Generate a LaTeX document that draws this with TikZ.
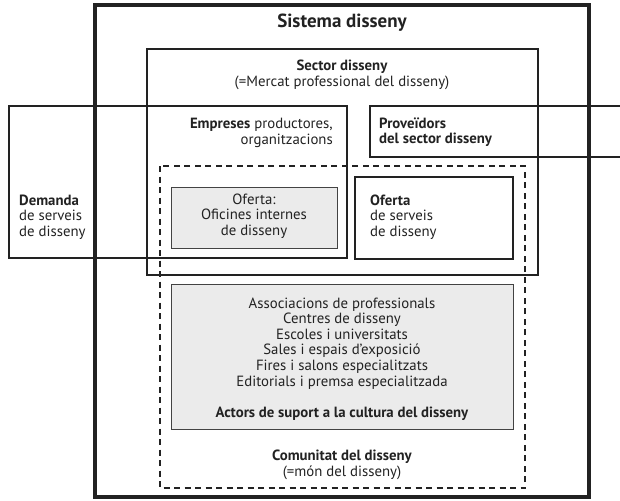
\documentclass[tikz,border=0pt]{standalone}
\usepackage{fontspec}
\setmainfont{PT Sans}
\usepackage{tikz}

\definecolor{ink}{HTML}{222222}
\definecolor{panel}{HTML}{EBEBEB}

\tikzset{
  frame/.style={draw=ink, line width=1.3pt},
  thickframe/.style={draw=ink, line width=4.0pt},
  grayframe/.style={draw=ink!85, line width=1.0pt, fill=panel},
  dashframe/.style={draw=ink, line width=1.5pt, dash pattern=on 6pt off 4.5pt},
  txt/.style={inner sep=0pt, text=ink, font=\fontsize{14.8}{15.6}\selectfont},
}

\begin{document}
\begin{tikzpicture}[x=1pt, y=-1pt, line join=miter]

  %% ════ 框 ════
  \draw[thickframe] (95,5) rectangle (589,497);
  \draw[frame] (147,49) rectangle (538,275);
  \draw[frame] (9,106) rectangle (347,258);
  \draw[frame] (620,106) -- (370,106) -- (370,157) -- (620,157);
  \draw[dashframe] (160,166) rectangle (525,488);
  \draw[grayframe] (171,187) rectangle (337,248);
  \draw[frame, line width=2.0pt] (355,177) rectangle (513,259);
  \draw[grayframe] (171,284) rectangle (513,429);

  %% ════ 文字 ════
  \node[txt, font=\fontsize{19}{21}\selectfont\bfseries] (sistema) at (342,23) {Sistema disseny};
  \node[txt, align=center] (sector) at (342,75) {\textbf{Sector disseny}\\(=Mercat professional del disseny)};
  \node[txt, align=right, anchor=east] (empreses) at (333,133) {\textbf{Empreses} productores,\\organitzacions};
  \node[txt, align=left, anchor=west, font=\fontsize{14.8}{15.6}\selectfont\bfseries] (proveidors) at (379,132) {Proveïdors\\del sector disseny};
  \node[txt, align=left, anchor=west] (demanda) at (19,217) {\textbf{Demanda}\\de serveis\\de disseny};
  \node[txt, align=center] (oficines) at (254,216) {Oferta:\\Oficines internes\\de disseny};
  \node[txt, align=left, anchor=west] (oferta) at (370,217) {\textbf{Oferta}\\de serveis\\de disseny};
  \node[txt, align=center] (actors) at (342,359) {Associacions de professionals\\Centres de disseny\\Escoles i universitats\\Sales i espais d’exposició\\Fires i salons especialitzats\\Editorials i premsa especialitzada\\[15.6pt]\textbf{Actors de suport a la cultura del disseny}};
  \node[txt, align=center] (comunitat) at (342,465) {\textbf{Comunitat del disseny}\\(=món del disseny)};

  % 钉死画布
  \pgfresetboundingbox
  \path[use as bounding box] (0,0) rectangle (620,500);
\end{tikzpicture}
\end{document}
